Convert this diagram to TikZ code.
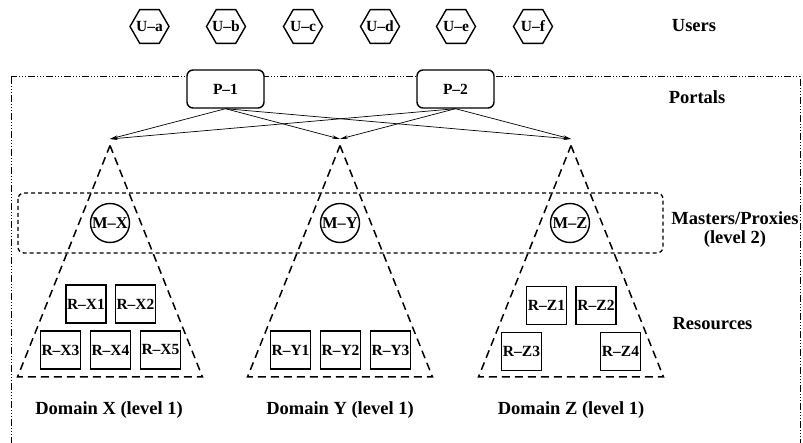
\documentclass[tikz,border=0pt]{standalone}
\usepackage{fontspec}
\setmainfont{Liberation Serif}
\usetikzlibrary{shapes.geometric, arrows.meta}
\begin{document}
\begin{tikzpicture}[x=1pt,y=-1pt,
  small/.style={font=\fontsize{15.5}{15.5}\selectfont\bfseries},
  big/.style={font=\fontsize{18.5}{17}\selectfont\bfseries},
  user/.style={small, regular polygon, regular polygon sides=6, draw, line width=1.4pt, minimum size=39pt, inner sep=0pt},
  portal/.style={small, draw, fill=white, rounded corners=6pt, line width=1.4pt, minimum width=77pt, minimum height=38pt, inner sep=0pt},
  master/.style={font=\fontsize{16.5}{16.5}\selectfont\bfseries, circle, draw, line width=1.4pt, minimum size=39pt, inner sep=0pt},
  res/.style={small, draw, line width=1.5pt, minimum width=40pt, minimum height=38pt, inner sep=0pt},
  outer/.style={line width=1pt, dash pattern=on 7pt off 2pt on 1pt off 2pt on 1pt off 2pt on 1pt off 2pt},
  tri/.style={line width=1.5pt, dash pattern=on 8pt off 5pt},
  mrect/.style={line width=1.3pt, dash pattern=on 4pt off 3pt, rounded corners=6pt},
  link/.style={line width=0.7pt, -{Stealth[length=8pt,width=3.5pt]}},
  lab/.style={big, inner sep=0pt}]
\useasboundingbox (0,0) rectangle (803,443);
\clip (0,0) rectangle (803,443);

% outer frame
\draw[outer] (11,77) rectangle (800,470);

% users
\foreach \n/\x in {a/149.5,b/226,c/303,d/380,e/456,f/533}
  \node[user] (U\n) at (\x,26.5) {\makebox[0pt]{U\textendash\n}};

% masters band
\draw[mrect] (18,193) rectangle (663,253);

% triangles (domains)
\foreach \d/\c in {X/110,Y/340,Z/571}{
  \coordinate (t\d) at (\c,145.5);
  \coordinate (a\d) at (\c,139);
  \draw[tri] (t\d) -- (\c+92.5,377) -- (\c-92.5,377) -- cycle;
}

% portals
\node[portal] (P1) at (225.5,89) {P\textendash 1};
\node[portal] (P2) at (455.5,89) {P\textendash 2};

\foreach \p in {P1,P2}
  \foreach \d in {X,Y,Z}
    \draw[link] (\p.south) -- (a\d);

% masters
\node[master] (MX) at (110,223) {\makebox[0pt]{M\textendash X}};
\node[master] (MY) at (340,223) {\makebox[0pt]{M\textendash Y}};
\node[master] (MZ) at (570,223) {\makebox[0pt]{M\textendash Z}};

% resources
\node[res] (RX1) at (86,304) {\makebox[0pt]{R\textendash X1}};
\node[res] (RX2) at (135.5,304) {\makebox[0pt]{R\textendash X2}};
\node[res] (RX3) at (60.5,350) {\makebox[0pt]{R\textendash X3}};
\node[res] (RX4) at (110.5,350) {\makebox[0pt]{R\textendash X4}};
\node[res] (RX5) at (160.5,350) {\makebox[0pt]{R\textendash X5}};
\node[res] (RY1) at (290.5,350) {\makebox[0pt]{R\textendash Y1}};
\node[res] (RY2) at (340.5,350) {\makebox[0pt]{R\textendash Y2}};
\node[res] (RY3) at (390.5,350) {\makebox[0pt]{R\textendash Y3}};
\node[res] (RZ1) at (546.5,305.5) {\makebox[0pt]{R\textendash Z1}};
\node[res] (RZ2) at (596,305.5) {\makebox[0pt]{R\textendash Z2}};
\node[res] (RZ3) at (521.5,351.5) {\makebox[0pt]{R\textendash Z3}};
\node[res] (RZ4) at (620.5,351.5) {\makebox[0pt]{R\textendash Z4}};

% labels
\node[lab, align=center, font=\fontsize{18.5}{19}\selectfont\bfseries] (lm) at (735,229.5) {Masters/Proxies\\(level 2)};
\node[lab] (lu) at (694,26) {Users};
\node[lab] (lp) at (697,97) {Portals};
\node[lab] (lr) at (712.5,324) {Resources};
\node[lab] (dx) at (109,410) {Domain X (level 1)};
\node[lab] (dy) at (340,410) {Domain Y (level 1)};
\node[lab] (dz) at (571,410) {Domain Z (level 1)};
\end{tikzpicture}
\end{document}
